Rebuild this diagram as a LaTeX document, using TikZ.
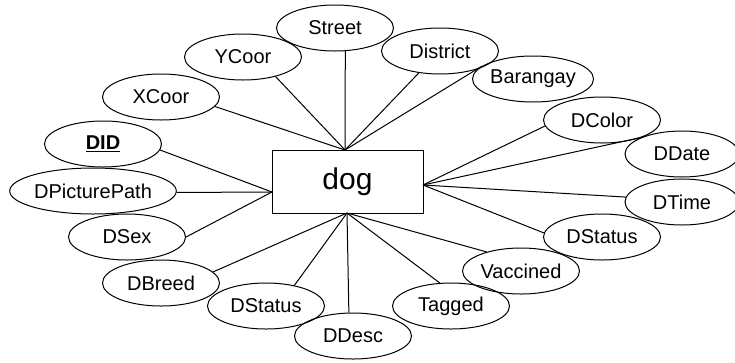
\documentclass[tikz,border=0pt]{standalone}
\usepackage{fontspec}
\setmainfont{Liberation Sans}
\usetikzlibrary{shapes.geometric}
\begin{document}
\begin{tikzpicture}[x=1pt,y=-1pt,
  attr/.style={ellipse, draw, line width=1pt, minimum width=117pt, minimum height=46pt, inner sep=0pt, font=\fontsize{20}{24}\selectfont},
  ent/.style={rectangle, draw, line width=1pt, minimum width=151pt, minimum height=63pt, inner sep=0pt, font=\fontsize{30}{36}\selectfont},
  link/.style={line width=1pt}]
\useasboundingbox (0,0) rectangle (735,362);
% entity
\node[ent] (dog) at (347.5,181.5) {dog};
\coordinate (T) at (345,150);
\coordinate (L) at (272,192);
\coordinate (R) at (423,185);
\coordinate (B) at (347,213);
% attributes
\node[attr] (street) at (335,28) {Street};
\node[attr] (ycoor) at (243,57) {YCoor};
\node[attr] (xcoor) at (161,97) {XCoor};
\node[attr] (did) at (103,144) {\textbf{\underline{DID}}};
\node[attr, minimum width=166pt] (pic) at (93,191) {DPicturePath};
\node[attr] (dsex) at (127,237) {DSex};
\node[attr] (dbreed) at (161,283) {DBreed};
\node[attr] (dstatusb) at (266,306) {DStatus};
\node[attr] (ddesc) at (353,336) {DDesc};
\node[attr] (tagged) at (451,306) {Tagged};
\node[attr] (vacc) at (521,271) {Vaccined};
\node[attr] (dstatusr) at (602,237) {DStatus};
\node[attr, minimum width=114pt] (dtime) at (682,202) {DTime};
\node[attr, minimum width=114pt] (ddate) at (682,154) {DDate};
\node[attr] (dcolor) at (602,120) {DColor};
\node[attr] (bar) at (533,79) {Barangay};
\node[attr] (district) at (440,51) {District};
% connectors
\draw[link] (T) -- (street.-66);
\draw[link] (T) -- (ycoor.-31);
\draw[link] (T) -- (xcoor.-10);
\draw[link] (T) -- (district.-134);
\draw[link] (T) -- (bar.166);
\draw[link] (L) -- (did.-6);
\draw[link] (L) -- (pic.-1);
\draw[link] (L) -- (dsex.0);
\draw[link] (B) -- (dbreed.12);
\draw[link] (B) -- (dstatusb.36);
\draw[link] (B) -- (ddesc.100);
\draw[link] (B) -- (tagged.116);
\draw[link] (B) -- (vacc.151);
\draw[link] (R) -- (dstatusr.176);
\draw[link] (R) -- (dtime.175);
\draw[link] (R) -- (ddate.158);
\draw[link] (R) -- (dcolor.186);
\end{tikzpicture}
\end{document}
